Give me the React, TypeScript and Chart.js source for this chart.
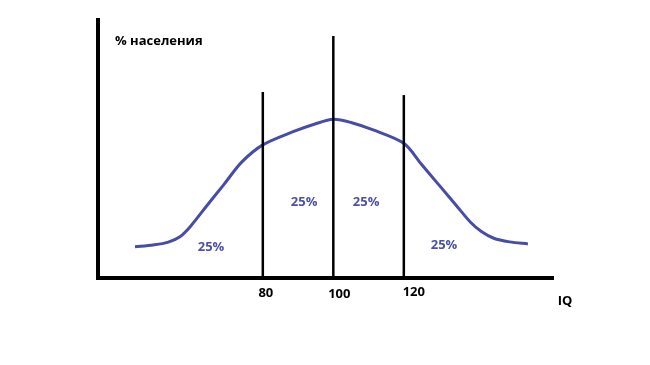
import React, { useEffect, useRef } from "react";
import { Chart, registerables } from "chart.js";

Chart.register(...registerables);

// Curve: IQ vs share of population (arbitrary units, 0..100 vertical range)
const curveIQ = [43.75, 48.9, 53, 56.5, 59.4, 64, 69, 74, 80, 88.6, 94.8, 100, 105, 111.3, 120, 125, 130, 135, 139, 142, 145.5, 150, 155.2];
const curveVal = [12.1, 12.8, 13.8, 16.0, 19.9, 27.8, 36.3, 44.9, 51.6, 56.7, 59.7, 61.5, 60.3, 57.4, 52.2, 44.1, 36.0, 27.9, 21.5, 18.0, 15.4, 14.0, 13.2];

// Vertical divider lines
const dividerIQ = [80, 100, 120];
const dividerTop = [72.1, 93.8, 70.9];

// Tick labels on the IQ axis
const tickValues = [80, 100, 120];
const tickLabels = ["80", "100", "120"];

// Region share labels
const shareLabels = ["25%", "25%", "25%", "25%"];
const shareIQ = [65.3, 91.7, 109.3, 131.4];
const shareVal = [12.0, 29.5, 29.5, 12.8];

const yTitle = "% населения";
const xTitle = "IQ";

const X_MIN = 33.25;
const X_MAX = 162.6;
const Y_MIN = 0;
const Y_MAX = 100;

const CURVE_COLOR = "#474ca6";
const TEXT_BLUE = "#4b50aa";
const FONT = "'Open Sans', 'Liberation Sans', sans-serif";
// small hand-drawn nudges of tick labels (px, style only)
const TICK_NUDGE_X = [3, 6, 10];
const TICK_NUDGE_Y = [15, 16, 14];

const overlayPlugin = {
  id: "overlay",
  afterDatasetsDraw(chart: any) {
    const { ctx, chartArea, scales } = chart;
    const xs = scales.x;
    const ys = scales.y;
    ctx.save();
    // axes
    ctx.strokeStyle = "#000";
    ctx.lineWidth = 4;
    ctx.lineCap = "butt";
    ctx.beginPath();
    ctx.moveTo(chartArea.left, chartArea.top - 2);
    ctx.lineTo(chartArea.left, chartArea.bottom + 2);
    ctx.moveTo(chartArea.left - 2, chartArea.bottom);
    ctx.lineTo(chartArea.right, chartArea.bottom);
    ctx.stroke();

    // tick labels
    ctx.fillStyle = "#000";
    ctx.font = `bold 13px ${FONT}`;
    ctx.textAlign = "center";
    ctx.textBaseline = "middle";
    tickValues.forEach((v, i) => {
      ctx.fillText(
        tickLabels[i],
        xs.getPixelForValue(v) + TICK_NUDGE_X[i],
        chartArea.bottom + TICK_NUDGE_Y[i]
      );
    });

    // axis titles
    ctx.fillText(xTitle, chartArea.right + 11, chartArea.bottom + 23);
    ctx.textAlign = "left";
    ctx.fillText(yTitle, chartArea.left + 17, chartArea.top + 21);

    // share labels
    ctx.fillStyle = TEXT_BLUE;
    ctx.textAlign = "center";
    shareLabels.forEach((t, i) => {
      ctx.fillText(t, xs.getPixelForValue(shareIQ[i]), ys.getPixelForValue(shareVal[i]));
    });
    ctx.restore();
  },
};

export default function App() {
  const ref = useRef<HTMLCanvasElement | null>(null);

  useEffect(() => {
    document.body.style.margin = "0";
    const canvas = ref.current;
    if (!canvas) return;

    const curveData = curveIQ.map((x, i) => ({ x, y: curveVal[i] }));
    const dividerSets = dividerIQ.map((x, i) => ({
      data: [
        { x, y: 0 },
        { x, y: dividerTop[i] },
      ],
      borderColor: "#000",
      borderWidth: 2.5,
      pointRadius: 0,
      showLine: true,
      tension: 0,
    }));

    const chart = new Chart(canvas, {
      type: "scatter",
      data: {
        datasets: [
          ...dividerSets,
          {
            data: curveData,
            borderColor: CURVE_COLOR,
            borderWidth: 3,
            pointRadius: 0,
            showLine: true,
            tension: 0.3,
          } as any,
        ],
      },
      options: {
        responsive: false,
        animation: false,
        layout: { padding: { left: 98, top: 20, right: 96, bottom: 87 } },
        plugins: {
          legend: { display: false },
          tooltip: { enabled: false },
        },
        scales: {
          x: { type: "linear", min: X_MIN, max: X_MAX, display: false },
          y: { type: "linear", min: Y_MIN, max: Y_MAX, display: false },
        },
      },
      plugins: [overlayPlugin],
    });

    return () => chart.destroy();
  }, []);

  return (
    <div style={{ width: 650, height: 365, background: "#fff" }}>
      <canvas ref={ref} width={650} height={365} />
    </div>
  );
}
